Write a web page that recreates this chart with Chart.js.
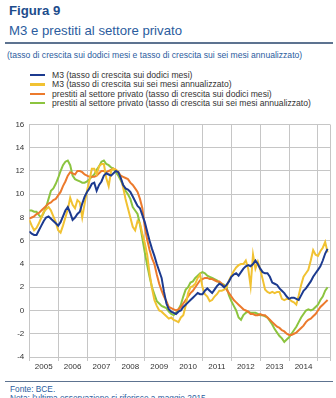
<!DOCTYPE html>
<html>
<head>
<meta charset="utf-8">
<script src="https://cdn.jsdelivr.net/npm/chart.js@4/dist/chart.umd.min.js"></script>
<style>
  html, body { margin: 0; padding: 0; background: #fff; }
  body { width: 336px; height: 398px; position: relative; overflow: hidden;
         font-family: "Liberation Sans", Arial, sans-serif; }
  .t { position: absolute; white-space: nowrap; line-height: 1; }
  #fig { left: 9px; top: 4px; font-size: 13.2px; font-weight: bold; color: #1d4c8c; }
  #ttl { left: 9px; top: 23.5px; font-size: 13.2px; color: #2b5c9e; }
  .rule { position: absolute; left: 5px; width: 328px; height: 1.5px; background: #5d7390; }
  #sub { left: 7px; top: 51.4px; font-size: 8.6px; color: #2b5c9e; }
  .lg { position: absolute; left: 30px; height: 10px; }
  .lg i { position: absolute; left: 0; top: 4px; width: 15px; height: 2.4px; }
  .lg span { position: absolute; left: 22px; top: 0; font-size: 8.6px; color: #333; white-space: nowrap; line-height: 10px; }
  #src { left: 10px; top: 384.8px; font-size: 8.3px; color: #2b5c9e; }
  #note { left: 10px; top: 393.5px; font-size: 8.3px; color: #2b5c9e; }
  #wrap { position: absolute; left: 0; top: 114px; width: 336px; height: 266px; }
</style>
</head>
<body>
<div class="t" id="fig">Figura 9</div>
<div class="t" id="ttl">M3 e prestiti al settore privato</div>
<div class="rule" style="top:42px"></div>
<div class="t" id="sub">(tasso di crescita sui dodici mesi e tasso di crescita sui sei mesi annualizzato)</div>
<div id="legend"></div>
<div id="wrap"><canvas id="c"></canvas></div>
<div class="rule" style="top:380.5px"></div>
<div class="t" id="src">Fonte: BCE.</div>
<div class="t" id="note">Nota: l'ultima osservazione si riferisce a maggio 2015.</div>
<script>
// Monthly observations, January 2005 to May 2015 (percentages)
const yearLabels = ['2005','2006','2007','2008','2009','2010','2011','2012','2013','2014'];

const seriesNames = [
  'M3 (tasso di crescita sui dodici mesi)',
  'M3 (tasso di crescita sui sei mesi annualizzato)',
  'prestiti al settore privato (tasso di crescita sui dodici mesi)',
  'prestiti al settore privato (tasso di crescita sui sei mesi annualizzato)'
];
const seriesColors = ['#1c3a8f', '#f1c232', '#ec7a2c', '#8cc43f'];

const m3Annual = [
  6.8, 6.6, 6.5, 6.5, 6.9, 7.3, 7.7, 8.0, 8.1, 7.9, 7.7, 7.5,
  7.3, 7.6, 8.1, 8.6, 8.9, 8.4, 7.8, 8.0, 8.3, 8.5, 9.2, 9.8,
  10.2, 10.5, 10.9, 11.0, 10.3, 10.8, 11.1, 11.6, 11.8, 11.7, 11.6, 11.8,
  12.0, 11.9, 11.4, 10.8, 10.5, 10.4, 10.2, 9.8, 9.4, 9.0, 8.8, 8.2,
  7.6, 6.8, 6.0, 5.3, 4.7, 4.0, 3.4, 2.8, 1.6, 0.6, 0.1, -0.1,
  -0.2, -0.3, -0.1, 0.0, 0.3, 0.5, 0.7, 0.9, 1.1, 1.3, 1.5, 1.4,
  1.4, 1.7, 1.9, 1.7, 1.5, 1.8, 2.1, 2.3, 2.2, 2.0, 2.2, 2.5,
  2.9, 3.1, 3.2, 3.0, 3.3, 3.6, 3.8, 3.9, 3.8, 4.0, 4.3, 4.0,
  3.6, 3.3, 3.2, 3.2, 2.9, 2.4, 2.3, 2.2, 1.9, 1.7, 1.5, 1.2,
  1.0, 1.1, 1.1, 1.0, 0.9, 1.3, 1.7, 1.9, 2.2, 2.5, 2.9, 3.2,
  3.5, 3.8, 4.3, 4.9, 5.3
];

const m3SixMonth = [
  7.8, 7.3, 6.9, 7.1, 7.5, 8.0, 8.5, 8.7, 8.9, 8.6, 8.1, 7.6,
  6.9, 6.7, 7.3, 8.0, 8.7, 9.7, 9.1, 8.8, 9.5, 9.3, 8.0, 9.2,
  10.3, 11.2, 12.2, 12.2, 11.7, 12.4, 12.6, 12.6, 11.4, 10.7, 12.0, 12.2,
  12.1, 11.9, 11.4, 10.6, 9.6, 8.8, 8.0, 7.2, 6.9, 7.7, 7.5, 6.6,
  5.8, 4.8, 3.2, 1.9, 0.9, 0.4, 0.0, -0.1, -0.3, -0.5, -0.7, -0.6,
  -0.8, -0.9, -1.0, -0.6, -0.4, 0.4, 1.5, 2.0, 2.1, 2.3, 2.8, 3.1,
  2.0, 1.4, 1.2, 0.8, 0.9, 1.2, 1.4, 1.7, 1.7, 1.8, 2.0, 2.6,
  3.0, 3.4, 3.7, 3.9, 4.0, 4.0, 4.3, 3.6, 2.1, 4.8, 3.6, 4.2,
  3.5, 2.7, 1.8, 1.6, 1.5, 1.6, 1.5, 1.6, 1.6, 1.0, 0.9, 1.0,
  1.0, 0.8, 0.7, 0.5, 1.3, 2.2, 2.9, 3.2, 3.5, 4.3, 5.2, 4.8,
  4.7, 5.1, 5.4, 5.9, 5.0
];

const loansAnnual = [
  7.9, 8.0, 8.1, 8.3, 8.4, 8.6, 8.8, 9.0, 9.2, 9.3, 9.5, 9.6,
  9.9, 10.2, 10.7, 11.1, 11.6, 11.9, 11.8, 11.7, 12.0, 12.0, 11.9, 11.7,
  11.6, 11.5, 11.5, 11.5, 11.6, 11.8, 12.0, 12.0, 11.9, 12.0, 12.1, 12.2,
  12.1, 11.9, 11.6, 11.5, 11.4, 11.3, 11.0, 10.8, 10.5, 10.2, 9.6, 8.8,
  7.2, 6.1, 5.2, 4.5, 4.0, 3.1, 2.3, 1.7, 1.2, 0.8, 0.3, 0.2,
  0.1, 0.0, 0.1, 0.3, 0.6, 0.9, 1.2, 1.5, 1.7, 2.0, 2.3, 2.6,
  2.7, 2.8, 2.8, 2.7, 2.7, 2.6, 2.5, 2.5, 2.3, 2.1, 1.8, 1.5,
  1.2, 0.9, 0.7, 0.5, 0.3, 0.1, 0.0, -0.1, -0.3, -0.3, -0.4, -0.4,
  -0.3, -0.4, -0.4, -0.6, -0.8, -1.0, -1.2, -1.4, -1.5, -1.7, -1.8, -2.0,
  -2.1, -2.1, -2.0, -1.9, -1.7, -1.5, -1.3, -1.0, -0.8, -0.7, -0.5, -0.3,
  0.0, 0.3, 0.5, 0.7, 0.9
];

const loansSixMonth = [
  8.6, 8.6, 8.5, 8.5, 8.2, 8.0, 8.4, 8.9, 9.6, 10.3, 10.5, 10.9,
  11.4, 12.0, 12.5, 12.8, 12.9, 12.5, 11.6, 11.3, 11.2, 11.1, 11.0, 11.0,
  11.1, 11.3, 11.5, 11.7, 12.1, 12.4, 12.8, 12.9, 12.6, 12.5, 12.3, 12.2,
  11.9, 11.6, 11.2, 10.8, 10.3, 10.0, 9.6, 8.9, 8.6, 8.3, 7.4, 6.2,
  5.0, 3.9, 2.9, 2.0, 1.4, 0.8, 0.6, 0.4, 0.3, 0.2, -0.1, -0.3,
  -0.4, -0.2, 0.1, 0.5, 1.2, 1.8, 2.0, 2.4, 2.5, 2.8, 3.0, 3.2,
  3.3, 3.2, 3.0, 2.9, 2.8, 2.7, 2.6, 2.4, 2.3, 2.2, 2.0, 1.3,
  0.8, 0.4, 0.0, -0.6, -0.8, -0.4, -0.2, -0.1, -0.2, -0.2, -0.2, -0.3,
  -0.4, -0.4, -0.5, -0.6, -0.9, -1.2, -1.6, -1.9, -2.2, -2.4, -2.7, -2.5,
  -2.3, -2.0, -1.7, -1.4, -1.0, -0.6, -0.3, 0.0, 0.1, 0.0, 0.1, 0.3,
  0.5, 0.9, 1.2, 1.7, 2.0
];

const seriesValues = [m3Annual, m3SixMonth, loansAnnual, loansSixMonth];

// Legend rows
const legendTops = [70, 79.3, 88.6, 97.9];
const legendEl = document.getElementById('legend');
seriesNames.forEach((name, i) => {
  const row = document.createElement('div');
  row.className = 'lg';
  row.style.top = legendTops[i] + 'px';
  const sw = document.createElement('i');
  sw.style.background = seriesColors[i];
  const tx = document.createElement('span');
  tx.textContent = name;
  row.appendChild(sw);
  row.appendChild(tx);
  legendEl.appendChild(row);
});

const gridColor = '#c6c6c6';
const xTickValues = [];
for (let v = 0; v <= 120; v += 6) xTickValues.push(v);
xTickValues.push(125);

new Chart(document.getElementById('c'), {
  type: 'line',
  data: {
    datasets: seriesValues.map((vals, i) => ({
      label: seriesNames[i],
      data: vals.map((v, k) => ({ x: k, y: v })),
      borderColor: seriesColors[i],
      backgroundColor: seriesColors[i],
      borderWidth: 2,
      pointRadius: 0,
      tension: 0,
      fill: false
    }))
  },
  options: {
    responsive: true,
    maintainAspectRatio: false,
    animation: false,
    events: [],
    layout: { padding: { top: 10.5, right: 6, left: 0, bottom: 0 } },
    plugins: { legend: { display: false }, title: { display: false }, tooltip: { enabled: false } },
    scales: {
      x: {
        type: 'linear',
        min: 0,
        max: 125,
        afterBuildTicks: (s) => { s.ticks = xTickValues.map(v => ({ value: v })); },
        afterFit: (s) => { s.height = 23; },
        border: { display: true, color: gridColor, width: 1 },
        grid: {
          color: (ctx) => {
            const v = ctx.tick ? ctx.tick.value : 0;
            return (v % 12 === 0 || v === 125) ? gridColor : 'rgba(0,0,0,0)';
          },
          lineWidth: 1,
          tickLength: 4
        },
        ticks: {
          autoSkip: false,
          maxRotation: 0,
          padding: 1,
          color: '#333',
          font: { family: '"Liberation Sans", Arial, sans-serif', size: 8 },
          callback: (v) => (v % 12 === 6 ? yearLabels[(v - 6) / 12] : '')
        }
      },
      y: {
        min: -4,
        max: 16,
        afterFit: (s) => { s.width = 29.3; },
        border: { display: true, color: gridColor, width: 1 },
        grid: { color: gridColor, lineWidth: 1, drawTicks: false },
        ticks: {
          stepSize: 2,
          padding: 5,
          color: '#333',
          font: { family: '"Liberation Sans", Arial, sans-serif', size: 8 }
        }
      }
    }
  }
});
</script>
</body>
</html>
